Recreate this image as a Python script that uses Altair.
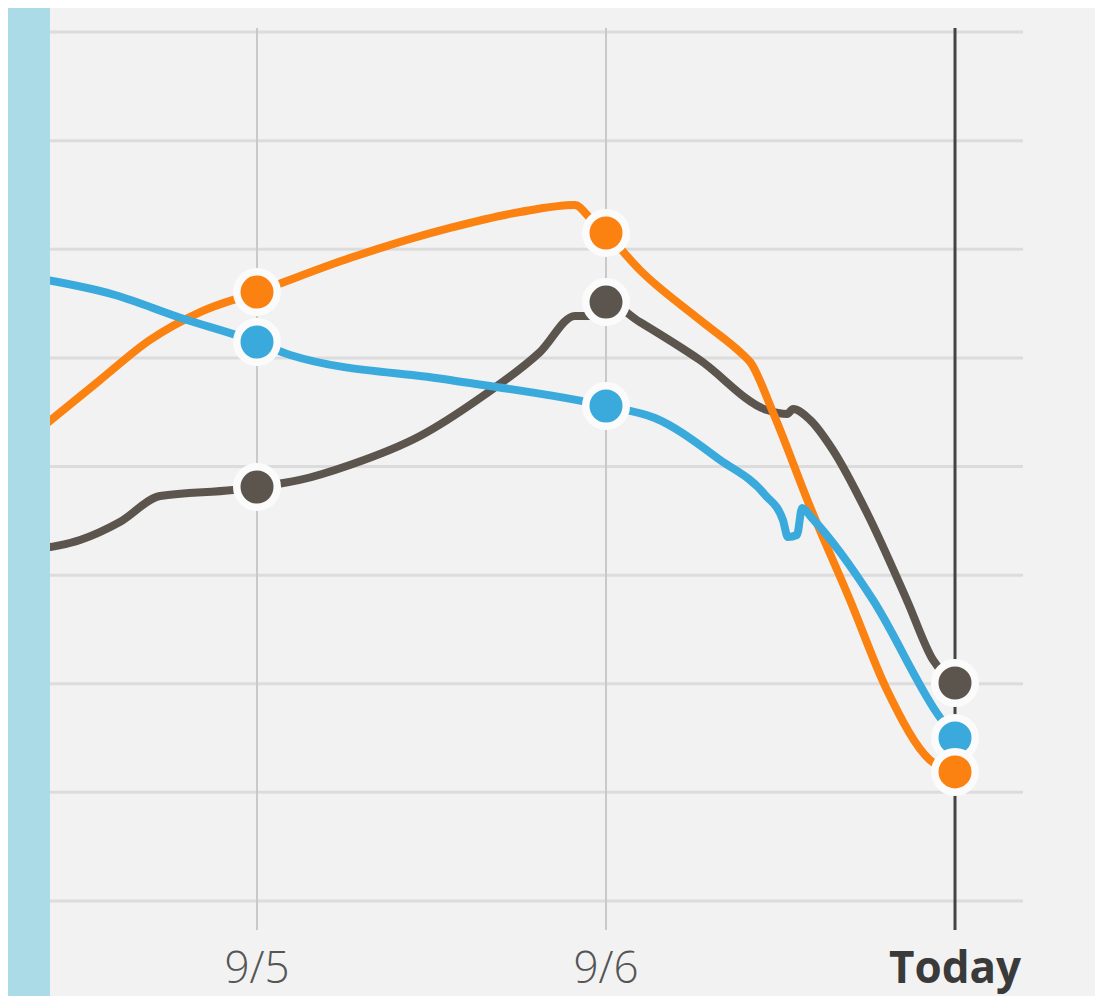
import altair as alt
import pandas as pd

# x: 1 = 9/5, 2 = 9/6, 3 = Today ; y: value in gridline units (0..8)
gray_x = [0.35, 0.493, 0.607, 0.722, 0.931, 1.0, 1.123, 1.266, 1.467, 1.639, 1.811, 1.911, 1.954, 2.0,
          2.097, 2.269, 2.461, 2.519, 2.536, 2.585, 2.650, 2.748, 2.862, 2.937, 3.0]
gray_y = [3.231, 3.323, 3.489, 3.728, 3.784, 3.811, 3.876, 4.014, 4.281, 4.631, 5.054, 5.386, 5.386, 5.514,
          5.330, 4.980, 4.520, 4.483, 4.529, 4.428, 4.152, 3.572, 2.771, 2.219, 2.007]

orange_x = [0.35, 0.550, 0.693, 0.837, 1.0, 1.266, 1.553, 1.754, 1.911, 1.954, 2.0, 2.097, 2.269, 2.393,
            2.413, 2.479, 2.585, 2.699, 2.805, 2.928, 3.0]
orange_y = [4.272, 4.796, 5.165, 5.422, 5.606, 5.919, 6.196, 6.343, 6.407, 6.288, 6.150, 5.809, 5.349, 5.027,
            4.962, 4.493, 3.627, 2.771, 1.942, 1.298, 1.188]

blue_x = [0.35, 0.593, 0.780, 1.0, 1.095, 1.553, 2.0, 2.140, 2.327, 2.456, 2.507, 2.521, 2.547, 2.562,
          2.590, 2.765, 2.948, 3.0]
blue_y = [5.744, 5.579, 5.370, 5.146, 5.027, 4.796, 4.557, 4.446, 4.060, 3.738, 3.507, 3.351, 3.369, 3.618,
          3.526, 2.771, 1.731, 1.501]

marker_x = [1, 2, 3]
gray_markers = [3.811, 5.514, 2.007]
blue_markers = [5.146, 4.557, 1.501]
orange_markers = [5.606, 6.150, 1.188]

tick_x = [1, 2, 3]
tick_labels = ["9/5", "9/6", "Today"]
grid_values = [0, 1, 2, 3, 4, 5, 6, 7, 8]

X_DOMAIN = [0.2865, 3.4011]
Y_DOMAIN = [-0.8746, 8.2210]
BAND_RIGHT = 0.4069
GRID_RIGHT = 3.1948
VLINE_TOP = 8.037
VLINE_BOTTOM = -0.267
LABEL_Y = -0.755

GRAY = "#5b554e"
ORANGE = "#fb8110"
BLUE = "#3aaadc"

xs = alt.Scale(domain=X_DOMAIN, nice=False, zero=False)
ys = alt.Scale(domain=Y_DOMAIN, nice=False, zero=False)

def X(f="x"):
    return alt.X(f"{f}:Q", scale=xs, axis=None)

def Y(f="y"):
    return alt.Y(f"{f}:Q", scale=ys, axis=None)

grid_df = pd.DataFrame({"y": grid_values, "x": [BAND_RIGHT] * 9, "x2": [GRID_RIGHT] * 9})
grid = alt.Chart(grid_df).mark_rule(color="#dcdcdc", strokeWidth=3).encode(
    x=X(), x2="x2:Q", y=Y())

vdf = pd.DataFrame({"x": [1, 2], "y": [VLINE_BOTTOM] * 2, "y2": [VLINE_TOP] * 2})
vlines = alt.Chart(vdf).mark_rule(color="#c9c9c9", strokeWidth=2).encode(
    x=X(), y=Y(), y2="y2:Q")

tdf = pd.DataFrame({"x": [3], "y": [VLINE_BOTTOM], "y2": [VLINE_TOP]})
today_line = alt.Chart(tdf).mark_rule(color="#444444", strokeWidth=3).encode(
    x=X(), y=Y(), y2="y2:Q")

layers = [grid, vlines, today_line]

for sx, sy, col in [(gray_x, gray_y, GRAY), (orange_x, orange_y, ORANGE), (blue_x, blue_y, BLUE)]:
    df = pd.DataFrame({"x": sx, "y": sy, "o": list(range(len(sx)))})
    layers.append(
        alt.Chart(df).mark_line(color=col, strokeWidth=8, strokeJoin="round", strokeCap="round",
                                interpolate="monotone").encode(
            x=X(), y=Y(), order="o:Q")
    )

band_df = pd.DataFrame({"x": [X_DOMAIN[0]], "x2": [BAND_RIGHT], "y": [Y_DOMAIN[0]], "y2": [Y_DOMAIN[1]]})
band = alt.Chart(band_df).mark_rect(color="#acdbe8").encode(x=X(), x2="x2:Q", y=Y(), y2="y2:Q")
layers.append(band)

for my, col in [(gray_markers, GRAY), (blue_markers, BLUE), (orange_markers, ORANGE)]:
    df = pd.DataFrame({"x": marker_x, "y": my})
    layers.append(
        alt.Chart(df).mark_point(filled=True, shape="circle", size=1640, fill=col, fillOpacity=1,
                                 stroke="#fbfbfb", strokeWidth=7.5, opacity=1).encode(x=X(), y=Y())
    )

lab_df = pd.DataFrame({"x": tick_x, "label": tick_labels, "y": [LABEL_Y] * 3})
labels_light = alt.Chart(lab_df[lab_df["label"] != "Today"]).mark_text(
    font="Open Sans", fontSize=44, fontWeight=300, color="#555555", baseline="alphabetic", align="center"
).encode(x=X(), y=Y(), text="label:N")
labels_bold = alt.Chart(lab_df[lab_df["label"] == "Today"]).mark_text(
    font="Open Sans", fontSize=44, fontWeight="bold", color="#3a3a3a", baseline="alphabetic", align="center"
).encode(x=X(), y=Y(), text="label:N")
layers += [labels_light, labels_bold]

chart = alt.layer(*layers).properties(
    width=1087, height=988,
    autosize=alt.AutoSizeParams(type="fit", contains="padding"),
    padding=0,
    background="#f2f2f2",
).configure_view(stroke=None, fill="#f2f2f2")

chart.save("out.html", embed_options={"renderer": "svg", "actions": False})
